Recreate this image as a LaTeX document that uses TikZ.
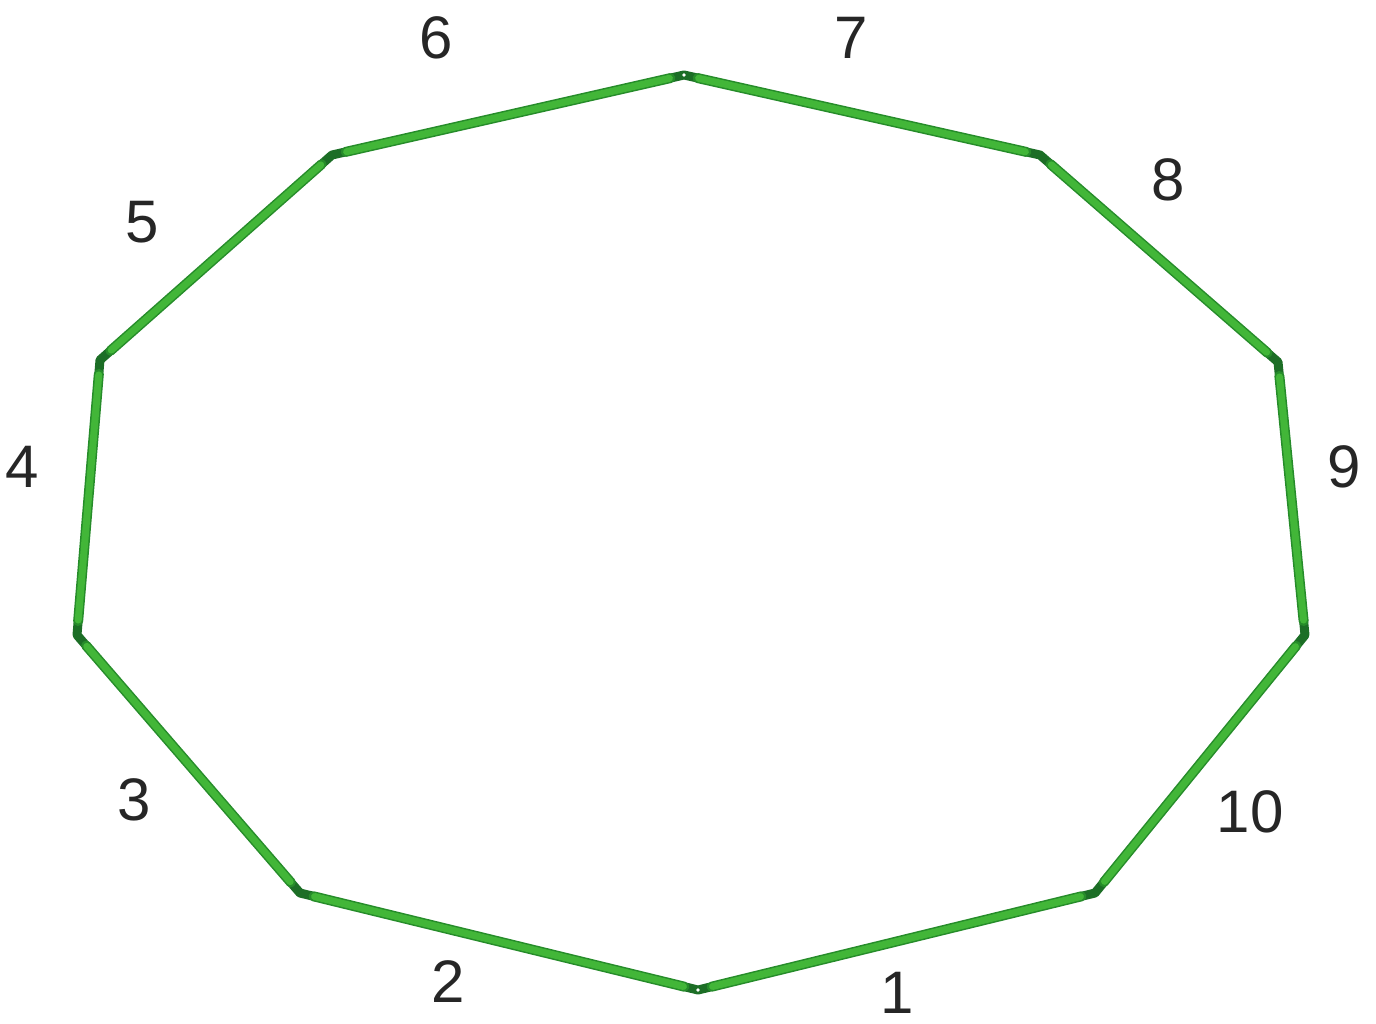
\documentclass[tikz,border=0pt]{standalone}
\usepackage{fontspec}
\setmainfont{Liberation Sans}
\usetikzlibrary{calc}
\definecolor{barg}{RGB}{66,182,56}
\definecolor{bardark}{RGB}{38,140,42}
\definecolor{jointg}{RGB}{28,110,38}
\tikzset{
  barout/.style={line width=10pt, draw=bardark, line cap=round},
  barin/.style={line width=7pt, draw=barg, line cap=round},
  joint/.style={line width=9pt, draw=jointg, line join=round},
  lbl/.style={font=\fontsize{60}{60}\selectfont, text=black!85, inner sep=0pt}
}
\begin{document}
\begin{tikzpicture}[x=1pt,y=-1pt]
\useasboundingbox (0,0) rectangle (1376,1023);
\coordinate (v1) at (684,75);
\coordinate (v2) at (1040,155);
\coordinate (v3) at (1278,362);
\coordinate (v4) at (1305,635);
\coordinate (v5) at (1095,893);
\coordinate (v6) at (698,990);
\coordinate (v7) at (300,893);
\coordinate (v8) at (77,635);
\coordinate (v9) at (100,360);
\coordinate (v10) at (332,155);
% joints
\foreach \p/\c/\n in {v10/v1/v2, v1/v2/v3, v2/v3/v4, v3/v4/v5, v4/v5/v6, v5/v6/v7, v6/v7/v8, v7/v8/v9, v8/v9/v10, v9/v10/v1}{
  \draw[joint] ($(\c)!16pt!(\p)$) -- (\c) -- ($(\c)!16pt!(\n)$);
}
% bars
\foreach \a/\b in {v1/v2, v2/v3, v3/v4, v4/v5, v5/v6, v6/v7, v7/v8, v8/v9, v9/v10, v10/v1}{
  \draw[barout] ($(\a)!14pt!(\b)$) -- ($(\b)!14pt!(\a)$);
  \draw[barin] ($(\a)!15pt!(\b)$) -- ($(\b)!15pt!(\a)$);
}
\fill[white] (v1) circle (1.8pt);
\fill[white] (v6) circle (1.8pt);
% labels
\node[lbl] (l6) at (436,38) {6};
\node[lbl] (l7) at (851,38) {7};
\node[lbl] (l8) at (1168,180) {8};
\node[lbl] (l5) at (142,222) {5};
\node[lbl] (l4) at (22,467) {4};
\node[lbl] (l9) at (1344,467) {9};
\node[lbl] (l3) at (134,800) {3};
\node[lbl] (l10) at (1250,812) {10};
\node[lbl] (l2) at (448,982) {2};
\node[lbl] (l1) at (897,993) {1};
\end{tikzpicture}
\end{document}
